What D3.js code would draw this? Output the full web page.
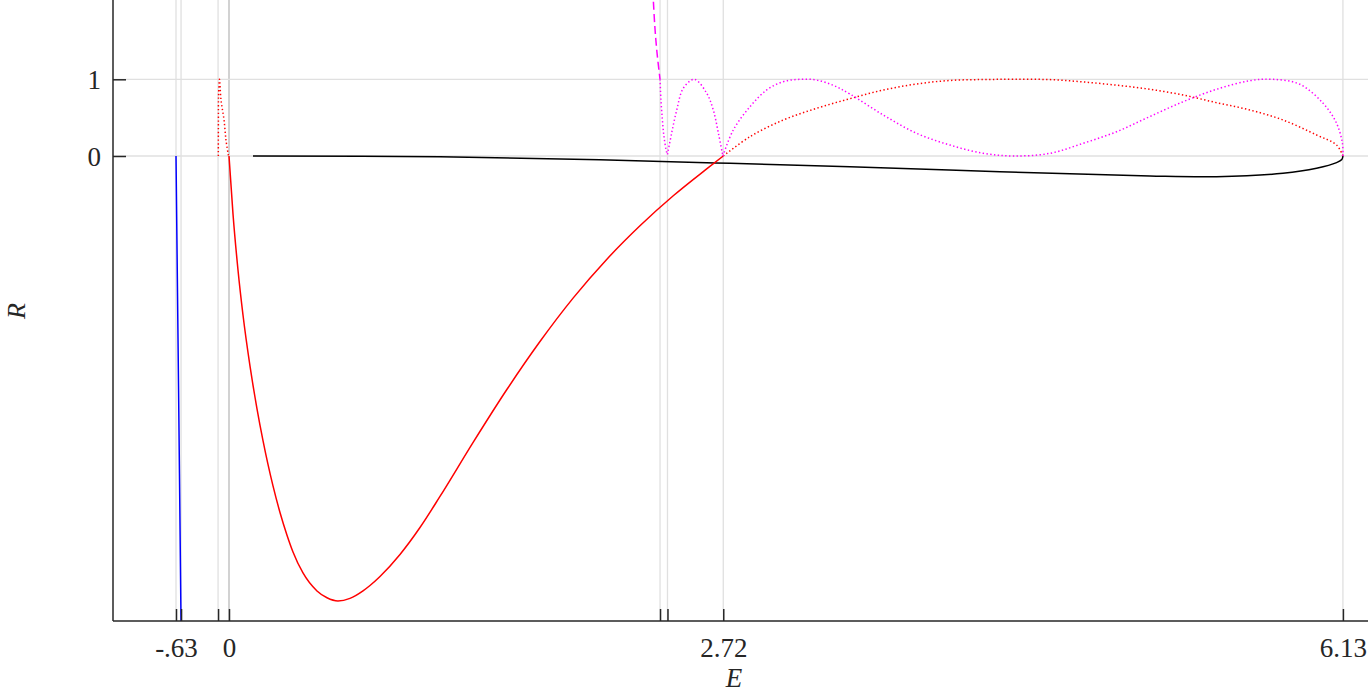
<!DOCTYPE html>
<html>
<head>
<meta charset="utf-8">
<script src="https://cdn.jsdelivr.net/npm/d3@7"></script>
<style>
  html, body { margin: 0; padding: 0; background: #fff; }
  svg { display: block; }
  text { font-family: "Liberation Serif", "DejaVu Serif", serif; fill: #262626; }
</style>
</head>
<body>
<svg id="chart" width="1368" height="694"></svg>
<script>
// ---------- data ----------
const xTicks = [-0.63, -0.57, -0.13, 0, 2.372, 2.413, 2.72, 6.13];
const xTickLabels = {"-0.63": "-.63", "0": "0", "2.72": "2.72", "6.13": "6.13"};
const yTicks = [0, 1];
const yTickLabels = ["0", "1"];

// blue solid branch
const blueSolid = [[-0.63, 0], [-0.60, -3.0], [-0.5705, -6.06], [-0.568, -6.4]];

// red dotted loop near zero
const redDottedLeft = [[-0.127, 0], [-0.126, 0.45], [-0.124, 0.8], [-0.113, 1.0],
  [-0.095, 0.73], [-0.059, 0.469], [-0.036, 0.209], [-0.006, 0]];

// red solid well
const redSolid = [[0, 0], [0.022, -0.756], [0.0495, -1.486], [0.077, -2.073], [0.1156, -2.739],
  [0.1541, -3.296], [0.1871, -3.710], [0.2146, -4.021], [0.2421, -4.301], [0.2806, -4.648],
  [0.3192, -4.944], [0.3522, -5.163], [0.4072, -5.437], [0.4842, -5.671], [0.5393, -5.760],
  [0.5998, -5.802], [0.6658, -5.768], [0.7374, -5.670], [0.7759, -5.600], [0.8309, -5.482],
  [0.941, -5.195], [1.051, -4.844], [1.1611, -4.439], [1.3443, -3.731], [1.5281, -3.048],
  [1.7113, -2.419], [1.8946, -1.850], [2.0783, -1.349], [2.2616, -0.910], [2.4448, -0.519],
  [2.6286, -0.169], [2.72, 0]];

// red dotted arch on the right
const redDottedRight = [[2.72, 0], [2.867, 0.252], [3.050, 0.469], [3.234, 0.622], [3.417, 0.747],
  [3.600, 0.860], [3.784, 0.939], [3.967, 0.985], [4.151, 0.997], [4.316, 1.0], [4.518, 0.996],
  [4.701, 0.966], [4.885, 0.923], [5.068, 0.870], [5.251, 0.795], [5.435, 0.695], [5.618, 0.600],
  [5.801, 0.469], [5.985, 0.274], [6.095, 0.143], [6.13, 0]];

// black solid branch
const blackSolid = [[0.132, 0], [1.161, -0.009], [2.041, -0.05], [2.757, -0.095], [3.417, -0.140],
  [4.243, -0.205], [5.068, -0.261], [5.435, -0.270], [5.800, -0.226], [5.985, -0.160],
  [6.095, -0.087], [6.124, -0.046], [6.13, 0]];

// magenta dashed (R > 1)
const magentaDashed = [[2.332, 2.165], [2.335, 2.034], [2.344, 1.669], [2.355, 1.356], [2.372, 1.0]];

// magenta dotted lobes
const magentaLobe1 = [[2.372, 1.0], [2.377, 0.73], [2.385, 0.469], [2.394, 0.248], [2.408, 0.052], [2.413, 0.02]];
const magentaLobe2 = [[2.413, 0.02], [2.436, 0.3], [2.464, 0.6], [2.5, 0.883], [2.561, 1.0],
  [2.629, 0.817], [2.665, 0.6], [2.693, 0.3], [2.718, 0]];
const magentaLobe3 = [[2.718, 0], [2.775, 0.339], [2.867, 0.643], [2.959, 0.861], [3.050, 0.969],
  [3.142, 1.0], [3.234, 0.99], [3.325, 0.922], [3.417, 0.808], [3.600, 0.535], [3.784, 0.296],
  [3.967, 0.143], [4.151, 0.035], [4.316, 0.0], [4.518, 0.035], [4.701, 0.166], [4.885, 0.317],
  [5.068, 0.515], [5.251, 0.708], [5.435, 0.870], [5.618, 0.982], [5.746, 1.0], [5.893, 0.935],
  [6.021, 0.687], [6.095, 0.426], [6.127, 0.17], [6.13, 0]];

// ---------- layout ----------
const pLeft = 113, pRight = 1368, pTop = 0, pBottom = 621;
const svg = d3.select("#chart");

const x = d3.scaleLinear().domain([-1.379, 0, 6.268]).range([pLeft, 229, pRight]);
const y = d3.scaleLinear().domain([-6.063, 2.034]).range([pBottom, pTop]);

svg.append("defs").append("clipPath").attr("id", "clip")
  .append("rect").attr("x", pLeft).attr("y", pTop).attr("width", pRight - pLeft).attr("height", pBottom - pTop);

// grid
const grid = svg.append("g");
grid.selectAll("line.vx").data(xTicks).join("line")
  .attr("x1", d => x(d)).attr("x2", d => x(d)).attr("y1", pTop).attr("y2", pBottom)
  .attr("stroke", d => d === 0 ? "#d2d2d2" : "#e0e0e0")
  .attr("stroke-width", d => d === 0 ? 2 : 1.3);
grid.selectAll("line.hy").data(yTicks).join("line")
  .attr("x1", pLeft).attr("x2", pRight).attr("y1", d => y(d)).attr("y2", d => y(d))
  .attr("stroke", "#e0e0e0").attr("stroke-width", 1.3);

// curves
const plot = svg.append("g").attr("clip-path", "url(#clip)");
const line = d3.line().x(d => x(d[0])).y(d => y(d[1])).curve(d3.curveCatmullRom.alpha(0.5));
const lineMono = d3.line().x(d => x(d[0])).y(d => y(d[1])).curve(d3.curveMonotoneX);

function draw(data, color, dash, gen) {
  plot.append("path").datum(data).attr("d", gen || line)
    .attr("fill", "none").attr("stroke", color).attr("stroke-width", 1.5)
    .attr("stroke-dasharray", dash || null);
}
const DOT = "1.4,2.4";
draw(blackSolid, "#000000");
draw(blueSolid, "#0000ff");
draw(redSolid, "#ff0000", null, lineMono);
draw(redDottedLeft, "#ff0000", DOT);
draw(redDottedRight, "#ff0000", DOT);
draw(magentaDashed, "#ff00ff", "8,4");
draw(magentaLobe1, "#ff00ff", DOT);
draw(magentaLobe2, "#ff00ff", DOT);
draw(magentaLobe3, "#ff00ff", DOT);

// axes
const xAxis = d3.axisBottom(x).tickValues(xTicks).tickSizeInner(-12).tickSizeOuter(0)
  .tickFormat(d => xTickLabels[String(d)] || "");
const gx = svg.append("g").attr("transform", `translate(0,${pBottom})`).call(xAxis);
gx.select(".domain").attr("d", `M${pLeft},0H${pRight}`).attr("stroke", "#262626").attr("stroke-width", 1.5);
gx.selectAll(".tick line").attr("stroke", "#262626").attr("stroke-width", 1.5);
gx.selectAll(".tick text").attr("y", 36).attr("dy", null)
  .style("font-size", "27px").style("font-family", "'Liberation Serif', serif").attr("fill", "#262626");

const yAxis = d3.axisLeft(y).tickValues(yTicks).tickSizeInner(-13).tickSizeOuter(0)
  .tickFormat((d, i) => yTickLabels[i]);
const gy = svg.append("g").attr("transform", `translate(${pLeft},0)`).call(yAxis);
gy.select(".domain").attr("d", `M0,${pTop}V${pBottom}`).attr("stroke", "#262626").attr("stroke-width", 1.5);
gy.selectAll(".tick line").attr("stroke", "#262626").attr("stroke-width", 1.5);
gy.selectAll(".tick text").attr("x", -12).attr("dy", "0.34em")
  .style("font-size", "27px").style("font-family", "'Liberation Serif', serif").attr("fill", "#262626");

// axis labels
svg.append("text").attr("x", 734).attr("y", 687).attr("text-anchor", "middle")
  .style("font-size", "27px").style("font-style", "italic").text("E");
svg.append("text").attr("transform", "translate(25,311) rotate(-90)").attr("text-anchor", "middle")
  .style("font-size", "26px").style("font-style", "italic").text("R");
</script>
</body>
</html>
